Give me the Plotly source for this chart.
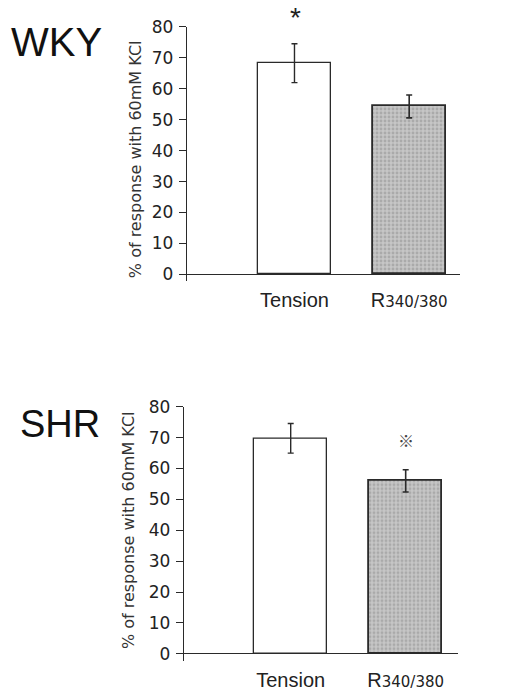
import plotly.graph_objects as go

# ---- data ----
categories = ["Tension", "R340/380"]
tick_text = ["Tension", "R<span style='font-size:15px;font-family:DejaVu Sans'>340/380</span>"]
wky_values = [68.3, 54.3]
wky_errors = [6.3, 3.7]
shr_values = [69.8, 56.0]
shr_errors = [4.8, 3.6]
y_ticks = [0, 10, 20, 30, 40, 50, 60, 70, 80]
panel_titles = ["WKY", "SHR"]
y_title = "% of response with 60mM KCl"
wky_mark = "*"
shr_mark = "※"

W, H = 516, 696
xpos = [0, 1]

line_col = "#2a2a2a"

fig = go.Figure()

def add_bars(vals, errs, xa, ya):
    fig.add_trace(go.Bar(
        x=[xpos[0]], y=[vals[0]], width=0.635,
        marker=dict(color="white", line=dict(color=line_col, width=1.3)),
        error_y=dict(type="data", array=[errs[0]], color=line_col, thickness=1.4, width=3),
        xaxis=xa, yaxis=ya, showlegend=False))
    fig.add_trace(go.Bar(
        x=[xpos[1]], y=[vals[1]], width=0.635,
        marker=dict(color="#c0c0c0", line=dict(color=line_col, width=1.8),
                    pattern=dict(shape=".", fgcolor="#8e8e8e", bgcolor="#c6c6c6",
                                 size=4, solidity=0.4, fillmode="overlay")),
        error_y=dict(type="data", array=[errs[1]], color=line_col, thickness=1.6, width=3),
        xaxis=xa, yaxis=ya, showlegend=False))

add_bars(wky_values, wky_errors, "x", "y")
add_bars(shr_values, shr_errors, "x2", "y2")

def px_x(p):
    return p / W

def px_y(p):
    return 1 - p / H

tickfont = dict(family="DejaVu Sans", size=17, color="#222")
xfont = dict(family="Liberation Sans, Arial", size=20, color="#222")

def yaxis_cfg(bottom_px, top_px, anchor):
    return dict(domain=[px_y(bottom_px), px_y(top_px)], range=[-2.2, 80], anchor=anchor,
                tickvals=y_ticks, ticks="outside", ticklen=7, tickwidth=1.2, tickcolor=line_col,
                showline=True, linecolor=line_col, linewidth=1.3, showgrid=False,
                zeroline=True, zerolinecolor=line_col, zerolinewidth=1.3,
                tickfont=tickfont, ticklabelstandoff=2)

def xaxis_cfg(left_px, right_px, rng, anchor):
    return dict(domain=[px_x(left_px), px_x(right_px)], range=rng, anchor=anchor,
                tickvals=xpos, ticktext=tick_text, showline=False, showgrid=False,
                zeroline=False, ticks="", tickfont=xfont, ticklabelstandoff=5)

fig.update_layout(
    width=W, height=H, margin=dict(l=0, r=0, t=0, b=0),
    paper_bgcolor="white", plot_bgcolor="white", bargap=0,
    xaxis=xaxis_cfg(187, 460, [-0.937, 1.443], "y"),
    yaxis=yaxis_cfg(276.3, 17.3, "x"),
    xaxis2=xaxis_cfg(184, 458, [-0.928, 1.455], "y2"),
    yaxis2=yaxis_cfg(663, 404.3, "x2"),
)

ann = []
ann.append(dict(text=panel_titles[0], x=px_x(56), y=px_y(33), xref="paper", yref="paper",
                showarrow=False, font=dict(family="Liberation Sans, Arial", size=40, color="#111"),
                xanchor="center", yanchor="middle"))
ann.append(dict(text=panel_titles[1], x=px_x(60), y=px_y(422), xref="paper", yref="paper",
                showarrow=False, font=dict(family="Liberation Sans, Arial", size=38, color="#111"),
                xanchor="center", yanchor="middle"))
ann.append(dict(text=y_title, x=px_x(135), y=px_y(152), xref="paper", yref="paper",
                showarrow=False, textangle=-90, font=dict(family="DejaVu Sans", size=16, color="#333"),
                xanchor="center", yanchor="middle"))
ann.append(dict(text=y_title, x=px_x(128), y=px_y(530), xref="paper", yref="paper",
                showarrow=False, textangle=-90, font=dict(family="DejaVu Sans", size=16, color="#333"),
                xanchor="center", yanchor="middle"))
ann.append(dict(text=wky_mark, x=px_x(295), y=px_y(8), xref="paper", yref="paper", showarrow=False,
                font=dict(family="Liberation Sans, Arial", size=28, color="#222"),
                xanchor="center", yanchor="middle"))
ann.append(dict(text=shr_mark, x=1, y=69.3, xref="x2", yref="y2", showarrow=False,
                font=dict(family="Noto Sans CJK JP", size=16, color="#444"),
                xanchor="center", yanchor="middle"))
fig.update_layout(annotations=ann)

fig.write_html("out.html")
